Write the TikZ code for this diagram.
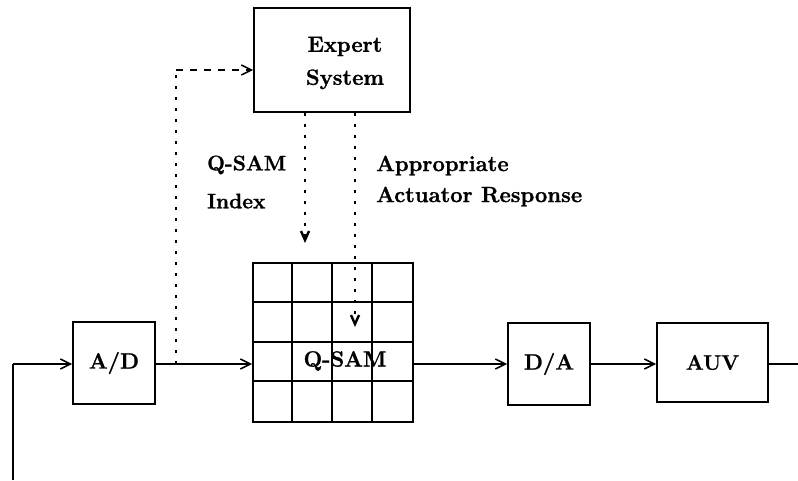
\documentclass[tikz,border=0pt]{standalone}
\usepackage{fontspec}
\setmainfont{Latin Modern Roman}[BoldFeatures={FakeBold=1.2}]
\usetikzlibrary{arrows.meta,calc}
\begin{document}
\begin{tikzpicture}[x=1pt,y=-1pt,
  blk/.style={draw,line width=1.8pt,minimum width=82pt,minimum height=82pt,inner sep=0pt,
    font=\fontsize{22}{26}\selectfont\bfseries},
  sig/.style={line width=1.6pt,-{Straight Barb[length=10pt,width=10pt,line width=1.6pt]}},
  wire/.style={line width=1.6pt},
  fb/.style={line width=1.6pt,dash pattern=on 7pt off 7pt,-{Straight Barb[length=10pt,width=10pt,line width=1.6pt]}},
  fbv/.style={line width=2pt,dash pattern=on 3pt off 8pt},
  ctl/.style={line width=2pt,dash pattern=on 3pt off 8pt,-{Straight Barb[length=9pt,width=8pt,line width=2.4pt]}},
  gridline/.style={line width=1.8pt},
  lbl/.style={anchor=west,align=left,inner sep=0pt}]
\useasboundingbox[fill=white] (0,0) rectangle (798,480);

% processing blocks
\node[blk] (ad) at (114,363) {A/D};
\node[blk] (da) at (549,364) {D/A};
\node[blk,minimum width=111pt,minimum height=79pt,font=\fontsize{21}{25}\selectfont\bfseries] (auv) at (712.5,362.5) {AUV};
\node[draw,line width=1.8pt,minimum width=156pt,minimum height=104pt] (expert) at (332,60) {};
\node[align=center,inner sep=0pt,font=\fontsize{22}{33}\selectfont\bfseries] (experttext) at (345,63) {Expert\\System};

% Q-SAM lookup table: 4x4 grid
\node[draw,gridline,minimum width=160pt,minimum height=159pt,inner sep=0pt] (grid) at (333,342.5) {};
\foreach \k in {1,2,3} {
  \draw[gridline] ($(grid.north west)+(40*\k,0)$) -- ($(grid.south west)+(40*\k,0)$);
  \draw[gridline] ($(grid.north west)+(0,39.75*\k)$) -- ($(grid.north east)+(0,39.75*\k)$);
}
\node[inner sep=0pt,font=\fontsize{22}{26}\selectfont\bfseries] (qsamtext) at (345,361) {Q-SAM};

% signal path
\coordinate (in) at (13,480);
\coordinate (inbend) at (13,364);
\coordinate (out) at (798,364);
\coordinate (tap) at (176,364);
\coordinate (corner) at (176,70);
\draw[wire] (in) -- (inbend);
\draw[sig] (inbend) -- (ad.west |- inbend);
\draw[sig] (ad.east |- tap) -- (grid.west |- tap);
\draw[sig] (grid.east |- tap) -- (da.west |- tap);
\draw[sig] (da.east |- tap) -- (auv.west |- tap);
\draw[wire] (auv.east |- tap) -- (out);

% feedback to the expert system
\draw[fbv] (tap) -- (corner);
\draw[fb] (corner) -- (expert.west |- corner);

% expert system outputs
\coordinate (idxend) at (305,243);
\coordinate (rspend) at (355,327);
\draw[ctl] (expert.south -| idxend) -- (idxend);
\draw[ctl] (expert.south -| rspend) -- (rspend);

\node[lbl,font=\fontsize{21}{38}\selectfont\bfseries] (idxlbl) at (207,182) {Q-SAM\\Index};
\node[lbl,font=\fontsize{22}{31}\selectfont\bfseries] (rsplbl) at (376,181) {Appropriate\\Actuator Response};
\end{tikzpicture}
\end{document}
